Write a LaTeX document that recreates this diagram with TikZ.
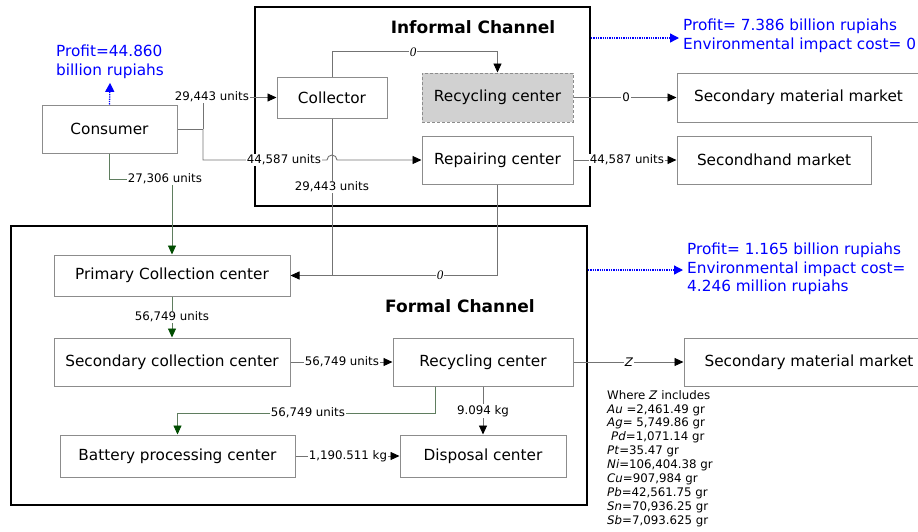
\documentclass[tikz,border=0pt]{standalone}
\usepackage{fontspec}
\setmainfont{DejaVu Sans}
\newfontfamily\zerofont{Liberation Serif}
\usetikzlibrary{arrows.meta}

\begin{document}
\begin{tikzpicture}
    [
        x=1pt, y=-1pt,
        dims/.style 2 args = {
            minimum width=#1pt, minimum height=#2pt
            },
        box/.style = {
            rectangle, draw=black!45, line width=1pt, inner sep=0pt,
            font=\fontsize{15.3}{18}\selectfont
            },
        informal box/.style = {
            box, fill=black!18, dash pattern=on 3pt off 2pt
            },
        channel/.style = {
            rectangle, draw=black, line width=2.6pt, inner sep=0pt
            },
        title/.style = {
            font=\fontsize{17}{20}\selectfont\bfseries
            },
        flow/.style = {
            draw=black!55, line width=0.9pt
            },
        greenflow/.style = {
            draw={rgb,255:red,95;green,125;blue,95}, line width=0.9pt
            },
        to box/.style = {
            -{Triangle[length=9pt, width=8pt, color=black]}
            },
        to green/.style = {
            -{Triangle[length=9pt, width=8pt, color=green!30!black]}
            },
        amount/.style = {
            fill=white, inner sep=1pt, font=\fontsize{11.8}{14}\selectfont
            },
        zero/.style = {
            fill=white, inner sep=1pt, font=\fontsize{13}{14}\selectfont\zerofont\itshape
            },
        profit/.style = {
            blue, align=left, inner sep=4pt, font=\fontsize{15.3}{18.5}\selectfont
            },
        gain/.style = {
            draw=blue, densely dotted, line width=1.3pt,
            -{Triangle[length=9pt, width=9pt]}
            },
    ]
    \useasboundingbox (0,0) rectangle (918,531);
    %channels
    \node[channel, dims={335}{199}] (informal frame) at (422.5,106.5) {};
    \node[channel, dims={576}{279}] (formal frame) at (299,365.5) {};
    \node[title] (informal title) at (473,27) {Informal Channel};
    \node[title] (formal title) at (460,306) {Formal Channel};
    %nodes
    \node[box, dims={135}{48}] (consumer) at (109.5,129) {Consumer};
    \node[box, dims={110}{41}] (collector) at (332,97.5) {Collector};
    \node[informal box, dims={151}{49}] (informal recycling) at (497.5,97.5) {Recycling center};
    \node[box, dims={151}{48}] (repairing) at (497.5,160) {Repairing center};
    \node[box, dims={243}{49}] (material market) at (798.5,97.5) {Secondary material market};
    \node[box, dims={194}{48}] (secondhand) at (774,160) {Secondhand market};
    \node[box, dims={236}{41}] (primary) at (172,275.5) {Primary Collection center};
    \node[box, dims={236}{48}] (secondary) at (172,362) {Secondary collection center};
    \node[box, dims={180}{48}] (formal recycling) at (483,362) {Recycling center};
    \node[box, dims={250}{48}] (formal market) at (809,362) {Secondary material market};
    \node[box, dims={235}{42}] (battery) at (177.5,456) {Battery processing center};
    \node[box, dims={166}{42}] (disposal) at (483,456) {Disposal center};
    %profits
    \node[profit] (consumer profit) at (110,62) {Profit=44.860\\billion rupiahs};
    \node[profit, anchor=west] (informal profit) at (679,36) {Profit= 7.386 billion rupiahs\\Environmental impact cost= 0};
    \node[profit, anchor=west] (formal profit) at (683,269) {Profit= 1.165 billion rupiahs\\Environmental impact cost=\\4.246 million rupiahs};
    \node[amount, fill=none, anchor=north west, align=left, inner sep=0pt,
          font=\fontsize{11.8}{13.9}\selectfont] (z list) at (607,390)
        {Where \textit{Z} includes\\\textit{Au} =2,461.49 gr\\\textit{Ag}= 5,749.86 gr\\\hspace{4pt}\textit{Pd}=1,071.14 gr\\\textit{Pt}=35.47 gr\\\textit{Ni}=106,404.38 gr\\\textit{Cu}=907,984 gr\\\textit{Pb}=42,561.75 gr\\\textit{Sn}=70,936.25 gr\\\textit{Sb}=7,093.625 gr};
    %helper points
    \coordinate (split) at (203,129);
    \coordinate (join) at (332,275.5);
    \coordinate (green bend) at (172,179);
    \coordinate (informal gain) at (591,38);
    \coordinate (formal gain) at (588,270);
    %connecting nodes
    \draw[gain] (consumer.north) -- (consumer profit.south);
    \draw[gain] (informal gain) -- (informal gain -| informal profit.west);
    \draw[gain] (formal gain) -- (formal gain -| formal profit.west);
    \draw[flow] (consumer.east) -- (split);
    \draw[flow, to box] (split) |- (collector.west) node[amount] at (212,97) {29,443 units};
    \draw[flow, to box] (split) |- (327,160) arc[start angle=180, end angle=0, radius=5pt]
        -- (repairing.west) node[amount] at (284,160) {44,587 units};
    \draw[flow, to box] (collector.north) -- ++(0,-25) -| (informal recycling.north)
        node[zero] at (413,52) {0};
    \draw[flow, to box] (collector.south) |- (primary.east) node[amount] at (332,187) {29,443 units};
    \draw[flow] (repairing.south) |- (join) node[zero] at (440,275.5) {0};
    \draw[flow, to box] (informal recycling.east) -- (material market.west)
        node[amount] at (626,97.5) {0};
    \draw[flow, to box] (repairing.east) -- (secondhand.west)
        node[amount] at (627,160) {44,587 units};
    \draw[greenflow, to green] (consumer.south) |- (green bend) -- (primary.north)
        node[amount] at (165,179) {27,306 units};
    \draw[greenflow, to green] (primary.south) -- (secondary.north)
        node[amount] at (172,317) {56,749 units};
    \draw[flow, to box] (secondary.east) -- (formal recycling.west)
        node[amount] at (342,362) {56,749 units};
    \draw[flow, to box] (formal recycling.east) -- (formal market.west)
        node[amount] at (629,362) {\textit{Z}};
    \draw[greenflow, to green] ([xshift=-48pt]formal recycling.south) -- ++(0,27) -| (battery.north)
        node[amount] at (308,413) {56,749 units};
    \draw[flow, to box] (formal recycling.south) -- (disposal.north)
        node[amount] at (483,411) {9.094 kg};
    \draw[flow, to box] (battery.east) -- (disposal.west)
        node[amount] at (348,456) {1,190.511 kg};
\end{tikzpicture}
\end{document}
